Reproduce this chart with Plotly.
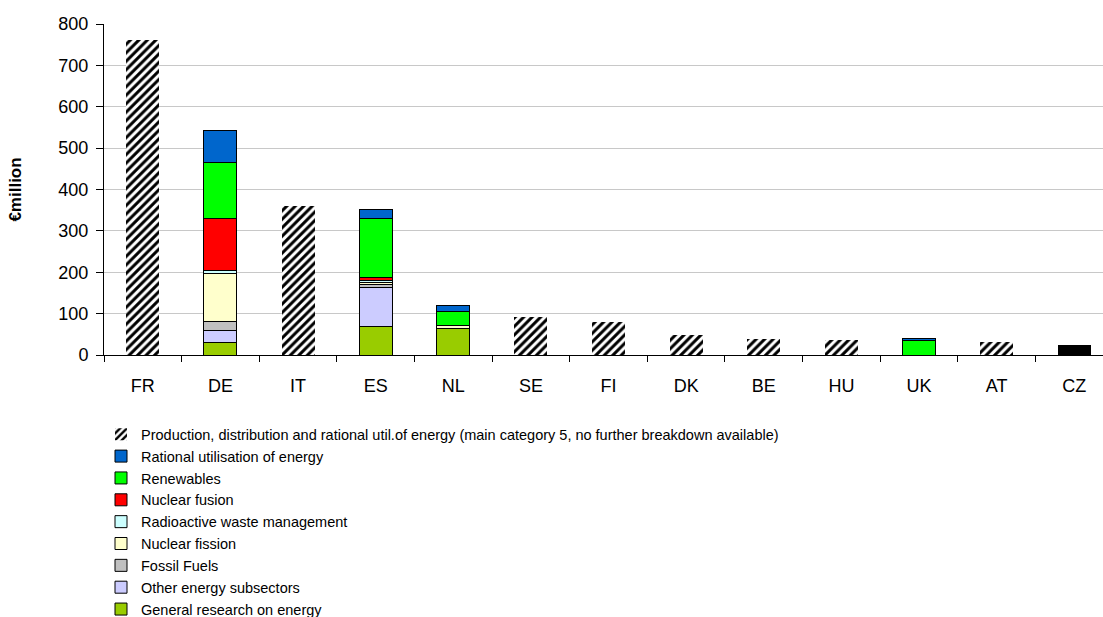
import plotly.graph_objects as go

countries = ["FR", "DE", "IT", "ES", "NL", "SE", "FI", "DK", "BE", "HU", "UK", "AT", "CZ"]

general_research = [None, 30, None, 69, 65, None, None, None, None, None, None, None, None]
other_subsectors = [None, 29, None, 95, None, None, None, None, None, None, None, None, None]
fossil_fuels = [None, 22, None, 7, None, None, None, None, None, None, None, None, None]
nuclear_fission = [None, 117, None, 4, 7, None, None, None, None, None, None, None, None]
radioactive_waste = [None, 6, None, 4, None, None, None, None, None, None, None, None, None]
nuclear_fusion = [None, 126, None, 8, None, None, None, None, None, None, None, None, None]
renewables = [None, 136, None, 144, 32, None, None, None, None, None, 34, None, None]
rational_use = [None, 77, None, 20, 16, None, None, None, None, None, 5, None, None]
production_total = [761, None, 360, None, None, 93, 80, 49, 39, 36, None, 32, 23]

series = [
    ("General research on energy", general_research, "#99cc00"),
    ("Other energy subsectors", other_subsectors, "#ccccff"),
    ("Fossil Fuels", fossil_fuels, "#c0c0c0"),
    ("Nuclear fission", nuclear_fission, "#ffffcc"),
    ("Radioactive waste management", radioactive_waste, "#ccffff"),
    ("Nuclear fusion", nuclear_fusion, "#ff0000"),
    ("Renewables", renewables, "#00ff00"),
    ("Rational utilisation of energy", rational_use, "#0066cc"),
]

FONT = "Liberation Sans, Arial, sans-serif"

fig = go.Figure()
for name, vals, col in series:
    fig.add_trace(go.Bar(
        x=countries, y=vals, name=name,
        marker=dict(color=col, line=dict(color="black", width=1)),
    ))

bg = ["black" if c == "CZ" else "white" for c in countries]
fig.add_trace(go.Bar(
    x=countries, y=production_total,
    name="Production, distribution and rational util.of energy (main category 5, no further breakdown available)",
    marker=dict(
        color="black",
        line=dict(color="black", width=0),
        pattern=dict(shape="/", size=6, solidity=0.5, fgcolor="black", bgcolor=bg, fillmode="replace"),
    ),
))

fig.update_layout(
    width=1103, height=617,
    barmode="stack", bargap=0.575,
    plot_bgcolor="white", paper_bgcolor="white",
    margin=dict(l=104, r=0, t=24, b=262, autoexpand=False),
    font=dict(family=FONT, size=17, color="black"),
    showlegend=True,
    legend=dict(
        traceorder="reversed",
        x=-0.003, xanchor="left", xref="paper",
        y=0.322, yanchor="top", yref="container",
        font=dict(family=FONT, size=14.5, color="black"),
        itemwidth=30, bgcolor="rgba(0,0,0,0)",
    ),
    annotations=[dict(
        text="<b>€million</b>", textangle=-90,
        xref="paper", yref="paper", x=-0.089, y=0.5,
        xanchor="center", yanchor="middle", showarrow=False,
        font=dict(family=FONT, size=17, color="black"),
    )],
)

fig.update_xaxes(
    range=[-0.5, 12.37],
    showline=True, linecolor="black", linewidth=1,
    ticks="outside", tickson="boundaries", ticklen=6, tickcolor="black",
    ticklabelstandoff=14,
    showgrid=False,
    tickfont=dict(family=FONT, size=18, color="black"),
)
fig.update_yaxes(
    range=[0, 800], dtick=100,
    showline=True, linecolor="black", linewidth=1,
    ticks="outside", ticklen=7, tickcolor="black",
    ticklabelstandoff=4,
    showgrid=True, gridcolor="#c8c8c8", gridwidth=1,
    zeroline=False,
    tickfont=dict(family=FONT, size=18, color="black"),
)

fig.write_html(
    "out.html",
    config={"displayModeBar": False},
    post_script="document.body.style.margin='0';document.body.style.overflow='hidden';",
)
